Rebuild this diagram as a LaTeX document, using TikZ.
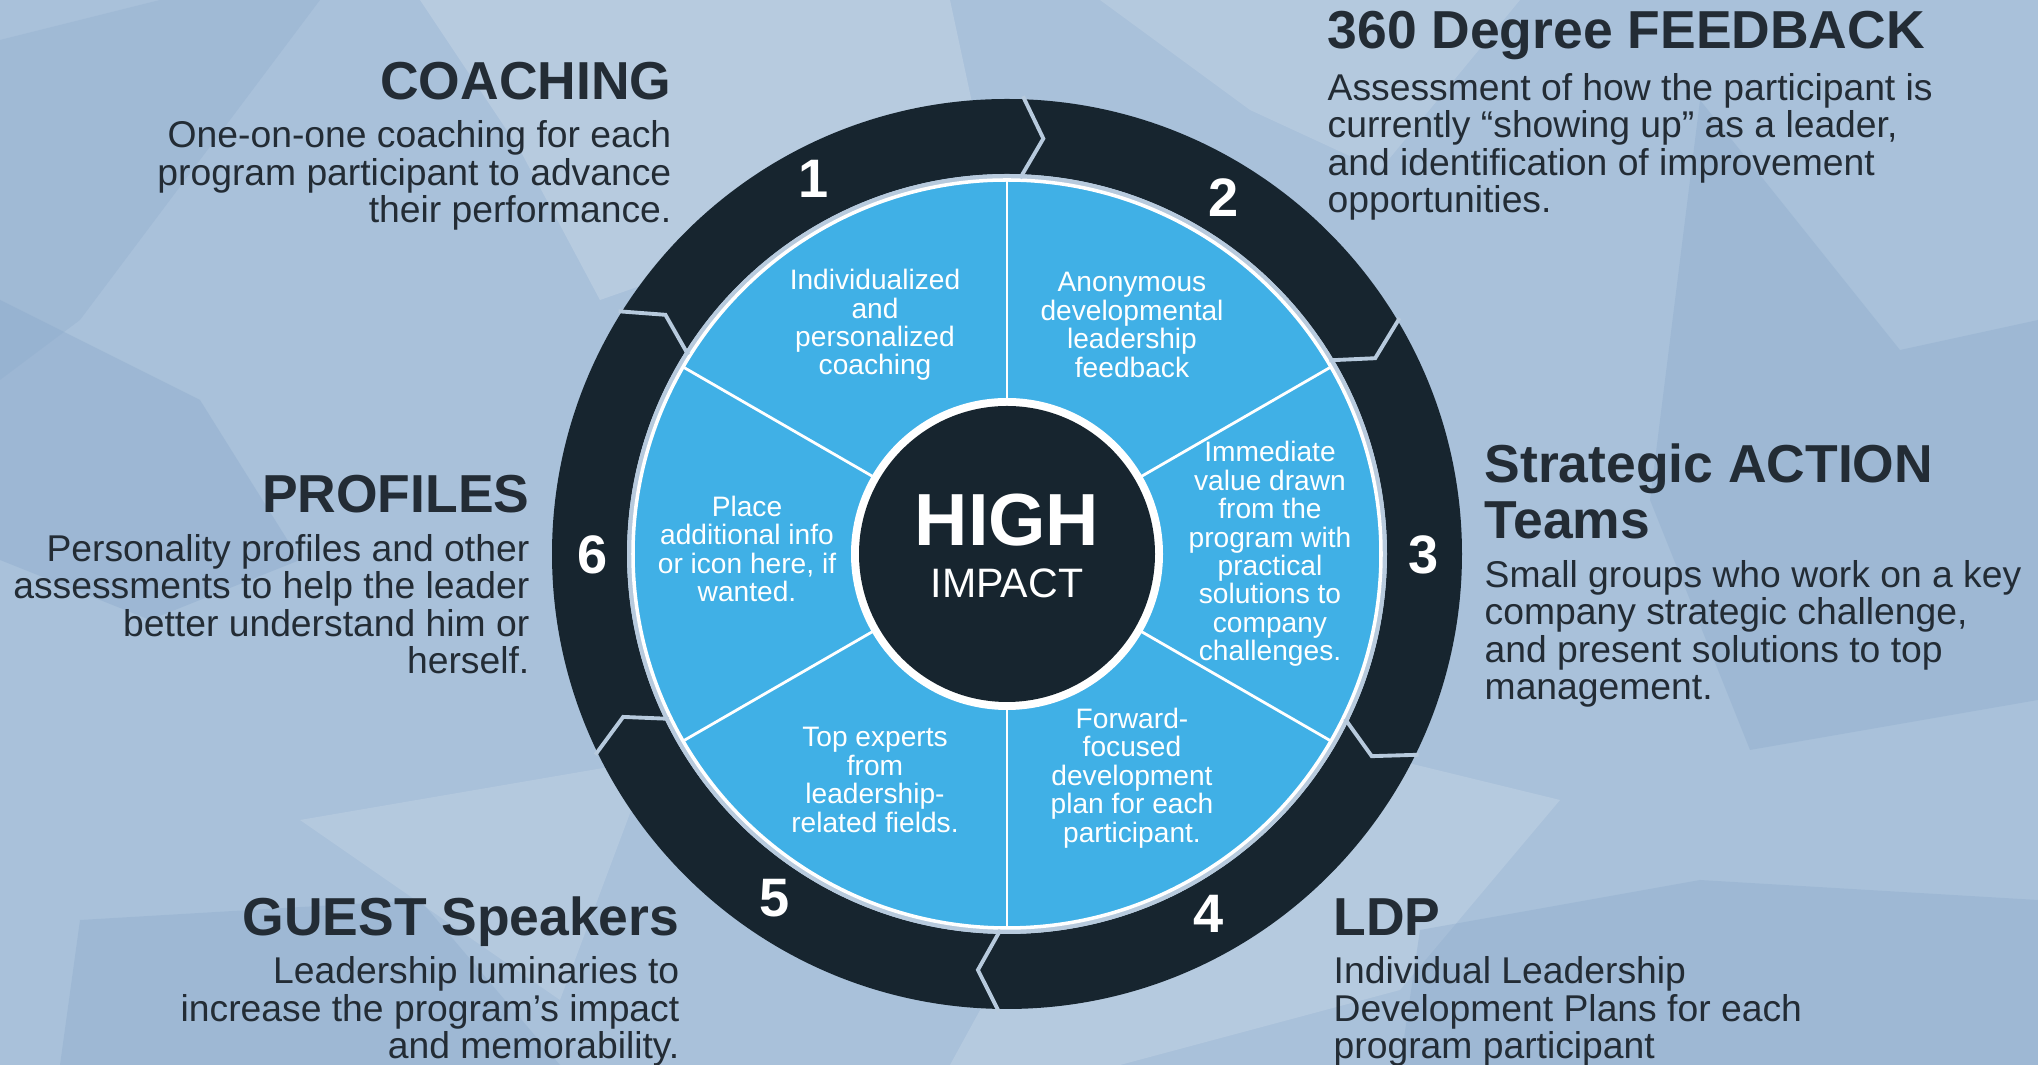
\documentclass[tikz,border=0pt]{standalone}
\usepackage{fontspec}
\setmainfont{Liberation Sans}
\definecolor{ringdark}{HTML}{17252F}
\definecolor{wheelblue}{HTML}{40B0E6}
\definecolor{bgblue}{HTML}{A9C1DA}
\definecolor{bglight}{HTML}{C9D8E7}
\definecolor{bgdeep}{HTML}{8CAACB}
\definecolor{inkgrey}{HTML}{232C35}
\definecolor{gapgrey}{HTML}{B7CADD}
\tikzset{
  headline/.style={font=\fontsize{15.2}{16}\bfseries, text=inkgrey, inner sep=0pt},
  blurb/.style={font=\fontsize{10.6}{10.7}\selectfont, text=inkgrey, inner sep=0pt},
  wedgetext/.style={font=\fontsize{8}{8.1}\selectfont, text=white, align=center, inner sep=0pt},
  stepnum/.style={font=\fontsize{15.4}{16}\bfseries, text=white, inner sep=0pt},
}

\begin{document}
\begin{tikzpicture}[x=0.01cm, y=-0.01cm]
	%\draw[help lines] (0,0) grid[step=100] (2038,1065);
	\useasboundingbox (0,0) rectangle (2038,1065);
	\fill[bgblue] (0,0) rectangle (2038,1065);
	% low-poly backdrop
	\fill[bglight, opacity=.45] (420,0) -- (950,0) -- (980,140) -- (800,230) -- (600,300) -- (520,150) -- cycle;
	\fill[bglight, opacity=.35] (1100,0) -- (1520,0) -- (1380,170) -- (1250,110) -- cycle;
	\fill[bglight, opacity=.4] (1150,700) -- (1560,800) -- (1400,990) -- (1120,1065) -- (950,1065) -- cycle;
	\fill[bglight, opacity=.35] (300,820) -- (650,760) -- (560,1000) -- cycle;
	\fill[bgdeep, opacity=.4] (0,300) -- (200,400) -- (300,560) -- (150,620) -- (0,560) -- cycle;
	\fill[bgdeep, opacity=.35] (80,920) -- (420,900) -- (560,1065) -- (60,1065) -- cycle;
	\fill[bgdeep, opacity=.35] (1700,100) -- (1900,350) -- (2038,320) -- (2038,700) -- (1750,750) -- (1650,500) -- cycle;
	\fill[bgdeep, opacity=.35] (1420,930) -- (1700,880) -- (2038,900) -- (2038,1065) -- (1400,1065) -- cycle;
	\fill[bgdeep, opacity=.3] (0,40) -- (160,0) -- (320,0) -- (80,320) -- (0,380) -- cycle;

	% the wheel
	\begin{scope}[shift={(1007,554)}, yscale=-1]
		\fill[ringdark, even odd rule] (0,0) circle[radius=455] (0,0) circle[radius=380];
		\fill[gapgrey] (0,0) circle[radius=380];
		\fill[wheelblue] (0,0) circle[radius=374];
		\draw[white, line width=1pt] (0,0) circle[radius=374];
		\foreach \a in {88,31,-26,-91,-154,148}
			\draw[gapgrey, line width=1.1pt, line join=miter] (\a:458) -- (\a-3:417) -- (\a:376);
		\foreach \a in {90,30,-30,-90,-150,150}
			\draw[white, line width=.8pt] (\a:150) -- (\a:374);
		\fill[white] (0,0) circle[radius=156];
		\fill[ringdark] (0,0) circle[radius=148];
	\end{scope}
	\node[font=\fontsize{21}{22}\bfseries, text=white] (high) at (1007,520) {HIGH};
	\node[font=\fontsize{11.7}{12}\selectfont, text=white] (impact) at (1007,583) {IMPACT};

	% step numbers on the ring
	\node[stepnum] (n1) at (814,179) {1};
	\node[stepnum] (n2) at (1224,198) {2};
	\node[stepnum] (n3) at (1424,555) {3};
	\node[stepnum] (n4) at (1209,914) {4};
	\node[stepnum] (n5) at (775,898) {5};
	\node[stepnum] (n6) at (593,555) {6};

	% wedge texts
	\node[wedgetext] (w1) at (875,325) {Individualized\\and\\personalized\\coaching};
	\node[wedgetext] (w2) at (1132,325) {Anonymous\\developmental\\leadership\\feedback};
	\node[wedgetext] (w3) at (1270,554) {Immediate\\value drawn\\from the\\program with\\practical\\solutions to\\company\\challenges.};
	\node[wedgetext] (w4) at (1132,778) {Forward-\\focused\\development\\plan for each\\participant.};
	\node[wedgetext] (w5) at (875,780) {Top experts\\from\\leadership-\\related fields.};
	\node[wedgetext] (w6) at (747,549) {Place\\additional info\\or icon here, if\\wanted.};

	% side descriptions (base = last line)
	\node[headline, anchor=base east] (coach) at (672,100) {COACHING};
	\node[blurb, anchor=base east, align=right] (coachtxt) at (672,223) {One-on-one coaching for each\\program participant to advance\\their performance.};
	\node[headline, anchor=base west] (fb) at (1327,49) {360 Degree FEEDBACK};
	\node[blurb, anchor=base west, align=left] (fbtxt) at (1327,213) {Assessment of how the participant is\\currently “showing up” as a leader,\\and identification of improvement\\opportunities.};
	\node[headline, anchor=base west, align=left] (sat) at (1484,539) {Strategic ACTION\\Teams};
	\node[blurb, anchor=base west, align=left] (sattxt) at (1484,700) {Small groups who work on a key\\company strategic challenge,\\and present solutions to top\\management.};
	\node[headline, anchor=base east] (prof) at (530,513) {PROFILES};
	\node[blurb, anchor=base east, align=right] (proftxt) at (530,674) {Personality profiles and other\\assessments to help the leader\\better understand him or\\herself.};
	\node[headline, anchor=base east] (guest) at (680,936) {GUEST Speakers};
	\node[blurb, anchor=base east, align=right] (guesttxt) at (680,1059) {Leadership luminaries to\\increase the program’s impact\\and memorability.};
	\node[headline, anchor=base west] (ldp) at (1333,936) {LDP};
	\node[blurb, anchor=base west, align=left] (ldptxt) at (1333,1059) {Individual Leadership\\Development Plans for each\\program participant};
\end{tikzpicture}
\end{document}
